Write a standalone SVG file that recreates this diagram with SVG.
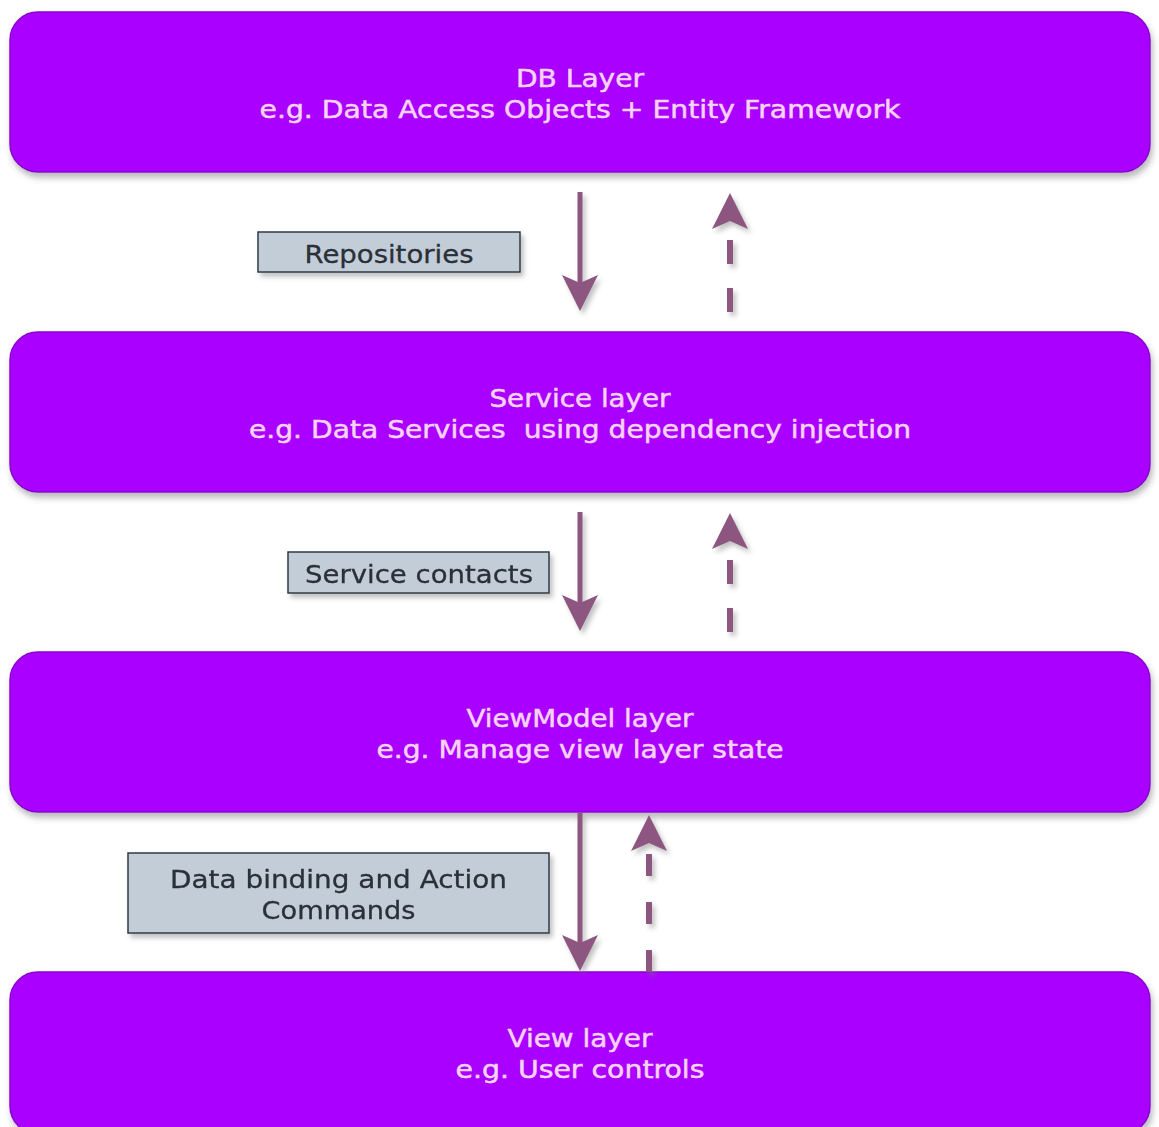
<svg xmlns="http://www.w3.org/2000/svg" xmlns:xlink="http://www.w3.org/1999/xlink" width="1159" height="1127" viewBox="0 0 1159 1127">
  <style>
    .layer { fill: #aa00ff; stroke: #8a00d0; stroke-width: 1.5; filter: url(#shadow); }
    .layer-text { font-family: "DejaVu Sans", Verdana, sans-serif; font-size: 25px; fill: #f7d3f7; stroke: #f7d3f7; stroke-width: 0.5; text-anchor: middle; }
    .tag { fill: #c3cdd8; stroke: #2e3a44; stroke-width: 1.5; filter: url(#softshadow); }
    .tag-text { font-family: "DejaVu Sans", Verdana, sans-serif; font-size: 25px; fill: #2a3038; stroke: #2a3038; stroke-width: 0.3; text-anchor: middle; }
    .flow { stroke: #8d5780; stroke-width: 5; fill: none; }
    .back { stroke: #8d5780; stroke-width: 6; fill: none; }
    .head { fill: #8d5780; }
    .arrows { filter: url(#softshadow); }
  </style>
  <defs>
    <filter id="shadow" x="-5%" y="-20%" width="110%" height="150%">
      <feDropShadow dx="2" dy="5" stdDeviation="3" flood-color="#666" flood-opacity="0.45"/>
    </filter>
    <filter id="softshadow" x="-30%" y="-30%" width="160%" height="160%">
      <feDropShadow dx="3" dy="4" stdDeviation="2.5" flood-color="#777" flood-opacity="0.45"/>
    </filter>
    <!-- arrowhead pointing down, tip at the origin -->
    <path id="head" class="head" d="M0,0 L-18,-36 L0,-28 L18,-36 Z"/>
  </defs>

  <rect width="1159" height="1127" fill="#ffffff"/>

  <g id="db-layer">
    <rect class="layer" x="10" y="12" width="1140" height="160" rx="28" ry="28"/>
    <text class="layer-text" x="580" y="87" textLength="128" lengthAdjust="spacingAndGlyphs">DB Layer</text>
    <text class="layer-text" x="580" y="118" textLength="641" lengthAdjust="spacingAndGlyphs">e.g. Data Access Objects + Entity Framework</text>
  </g>

  <g id="service-layer">
    <rect class="layer" x="10" y="332" width="1140" height="160" rx="28" ry="28"/>
    <text class="layer-text" x="580" y="407" textLength="181" lengthAdjust="spacingAndGlyphs">Service layer</text>
    <text class="layer-text" x="580" y="438" textLength="662" lengthAdjust="spacingAndGlyphs" xml:space="preserve">e.g. Data Services  using dependency injection</text>
  </g>

  <g id="viewmodel-layer">
    <rect class="layer" x="10" y="652" width="1140" height="160" rx="28" ry="28"/>
    <text class="layer-text" x="580" y="727" textLength="227" lengthAdjust="spacingAndGlyphs">ViewModel layer</text>
    <text class="layer-text" x="580" y="758" textLength="407" lengthAdjust="spacingAndGlyphs">e.g. Manage view layer state</text>
  </g>

  <g id="view-layer">
    <rect class="layer" x="10" y="972" width="1140" height="162" rx="28" ry="28"/>
    <text class="layer-text" x="580" y="1047" textLength="145" lengthAdjust="spacingAndGlyphs">View layer</text>
    <text class="layer-text" x="580" y="1078" textLength="249" lengthAdjust="spacingAndGlyphs">e.g. User controls</text>
  </g>

  <g id="connectors" class="arrows">
    <!-- DB <-> Service -->
    <line class="flow" x1="580" y1="192" x2="580" y2="290"/>
    <use xlink:href="#head" href="#head" transform="translate(580,311)"/>
    <line class="back" x1="730" y1="312" x2="730" y2="240" stroke-dasharray="24 24"/>
    <use xlink:href="#head" href="#head" transform="translate(730,193) rotate(180)"/>

    <!-- Service <-> ViewModel -->
    <line class="flow" x1="580" y1="512" x2="580" y2="610"/>
    <use xlink:href="#head" href="#head" transform="translate(580,631)"/>
    <line class="back" x1="730" y1="632" x2="730" y2="560" stroke-dasharray="24 24"/>
    <use xlink:href="#head" href="#head" transform="translate(730,513) rotate(180)"/>

    <!-- ViewModel <-> View -->
    <line class="flow" x1="580" y1="813" x2="580" y2="950"/>
    <use xlink:href="#head" href="#head" transform="translate(580,971)"/>
    <line class="back" x1="649" y1="972" x2="649" y2="853" stroke-dasharray="22 26"/>
    <use xlink:href="#head" href="#head" transform="translate(649,815) rotate(180)"/>
  </g>

  <g id="label-repositories">
    <rect class="tag" x="258" y="232" width="262" height="40"/>
    <text class="tag-text" x="389" y="263" textLength="169" lengthAdjust="spacingAndGlyphs">Repositories</text>
  </g>

  <g id="label-service-contacts">
    <rect class="tag" x="288" y="552" width="261" height="41"/>
    <text class="tag-text" x="419" y="583" textLength="228" lengthAdjust="spacingAndGlyphs">Service contacts</text>
  </g>

  <g id="label-data-binding">
    <rect class="tag" x="128" y="853" width="421" height="80"/>
    <text class="tag-text" x="338.5" y="888" textLength="337" lengthAdjust="spacingAndGlyphs">Data binding and Action</text>
    <text class="tag-text" x="338.5" y="919" textLength="154" lengthAdjust="spacingAndGlyphs">Commands</text>
  </g>
</svg>
